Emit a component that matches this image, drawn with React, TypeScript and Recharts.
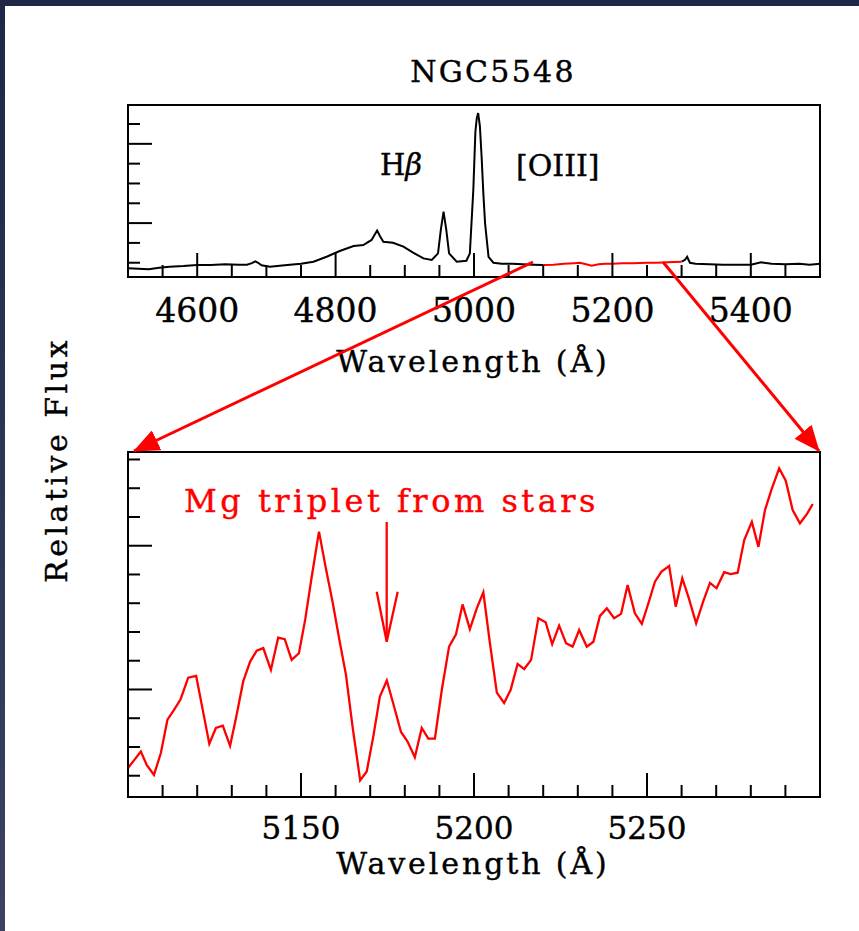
import { Line, LineChart, XAxis, YAxis } from "recharts";

// NGC5548 full spectrum (top panel), relative flux in arbitrary units
const blueSideWave = [4500, 4515, 4530, 4545, 4560, 4580, 4600, 4620, 4640, 4660, 4672, 4679, 4684, 4688, 4693, 4705, 4730, 4750, 4768, 4787, 4806, 4826, 4840, 4852, 4857, 4860, 4864, 4869, 4883, 4898, 4912, 4927, 4939, 4948, 4952, 4956, 4960, 4964, 4975, 4989, 4994, 4999, 5002, 5004, 5006, 5008.5, 5011, 5013.5, 5016, 5021, 5028, 5040, 5055, 5070, 5085, 5100];
const blueSideFlux = [-0.28, -0.3, -0.33, -0.25, -0.2, -0.17, -0.12, -0.12, -0.08, -0.1, -0.1, -0.02, 0.07, 0.0, -0.13, -0.2, -0.12, -0.05, 0.05, 0.3, 0.59, 0.84, 0.89, 1.15, 1.45, 1.62, 1.35, 1.06, 1.01, 0.81, 0.51, 0.22, 0.14, 0.47, 1.65, 2.58, 1.65, 0.47, 0.05, 0.1, 0.47, 3.67, 6.6, 7.3, 7.55, 6.9, 5.35, 3.5, 1.99, 0.3, 0.0, -0.05, -0.05, -0.08, -0.1, -0.12];

const mgRegionWave = [5100, 5115, 5130, 5145, 5153, 5162, 5170, 5180, 5190, 5200, 5215, 5230, 5250, 5265, 5280, 5300];
const mgRegionFlux = [-0.12, -0.1, -0.05, -0.02, 0.0, -0.08, -0.15, -0.08, -0.05, -0.05, -0.03, -0.03, 0.0, 0.0, 0.02, 0.05];

const redSideWave = [5300, 5305, 5308, 5312, 5320, 5340, 5360, 5380, 5400, 5415, 5430, 5450, 5470, 5485, 5500];
const redSideFlux = [0.05, 0.15, 0.3, 0.0, -0.05, -0.08, -0.1, -0.1, -0.1, 0.02, -0.05, -0.08, -0.05, -0.1, -0.05];

// zoom on the Mg triplet region (bottom panel)
const zoomWave = [5100.0, 5101.9, 5103.7, 5105.4, 5107.5, 5109.5, 5111.4, 5113.3, 5115.2, 5117.4, 5119.7, 5121.6, 5123.5, 5125.4, 5127.4, 5129.5, 5131.2, 5133.3, 5135.3, 5137.2, 5139.1, 5141.3, 5143.4, 5145.3, 5147.3, 5149.4, 5151.2, 5153.1, 5155.2, 5157.2, 5159.2, 5161.1, 5163.0, 5164.9, 5167.1, 5169.0, 5170.9, 5172.8, 5174.8, 5176.9, 5178.9, 5180.8, 5182.9, 5184.9, 5186.8, 5188.7, 5190.7, 5192.8, 5194.8, 5196.7, 5198.8, 5200.8, 5202.7, 5204.6, 5206.6, 5208.7, 5210.6, 5212.6, 5214.5, 5216.5, 5218.6, 5220.7, 5222.6, 5224.6, 5226.6, 5228.5, 5230.4, 5232.6, 5234.5, 5236.4, 5238.4, 5240.5, 5242.5, 5244.4, 5246.5, 5248.5, 5250.4, 5252.3, 5254.2, 5256.4, 5258.3, 5260.2, 5262.1, 5264.2, 5266.2, 5268.2, 5270.1, 5272.3, 5274.2, 5276.2, 5278.1, 5280.3, 5282.2, 5284.1, 5286.0, 5288.2, 5290.1, 5292.1, 5294.2, 5296.2, 5297.9];
const zoomFlux = [0.27, 0.56, 0.84, 0.38, 0.03, 0.79, 1.95, 2.29, 2.66, 3.41, 3.47, 2.29, 1.11, 1.66, 1.74, 1.04, 2.0, 3.28, 3.97, 4.35, 4.44, 3.68, 4.8, 4.75, 4.03, 4.26, 5.42, 6.92, 8.49, 7.21, 6.0, 4.72, 3.51, 1.71, -0.16, 0.15, 1.37, 2.75, 3.31, 2.41, 1.52, 1.19, 0.64, 1.66, 1.29, 1.29, 2.99, 4.49, 4.92, 5.96, 5.1, 5.82, 6.38, 4.61, 2.89, 2.53, 2.99, 3.89, 3.71, 4.03, 5.48, 5.34, 4.58, 5.22, 4.61, 4.49, 5.07, 4.49, 4.66, 5.56, 5.82, 5.48, 5.63, 6.63, 5.65, 5.28, 6.0, 6.75, 7.1, 7.29, 5.88, 6.87, 6.17, 5.3, 6.05, 6.71, 6.52, 7.08, 7.01, 7.06, 8.2, 8.83, 7.96, 9.24, 9.96, 10.69, 10.26, 9.24, 8.78, 9.1, 9.45];

// axis ticks
const topMajorX = [4600, 4800, 5000, 5200, 5400];
const topMinorX = [4550, 4650, 4700, 4750, 4850, 4900, 4950, 5050, 5100, 5150, 5250, 5300, 5350, 5450];
const topYTicks = [0, 1, 2, 3, 4, 5, 6, 7];
const topMajorY = [2, 6];

const zoomMajorX = [5150, 5200, 5250];
const zoomMinorX = [5110, 5120, 5130, 5140, 5160, 5170, 5180, 5190, 5210, 5220, 5230, 5240, 5260, 5270, 5280, 5290];
const zoomYTicks = [0, 1, 2, 3, 4, 5, 6, 7, 8, 9, 10, 11];
const zoomMajorY = [3, 8];

const FONT = "'DejaVu Serif', serif";
const RED = "#ff0000";

const toRows = (w: number[], f: number[]) => w.map((wl, i) => ({ wl, flux: f[i] }));

type Side = "bottom" | "top" | "left" | "right";

function makeTick(side: Side, majors: number[], label?: { dy: number; size: number }) {
  return (props: any) => {
    const { x, y, payload } = props;
    const v = Number(payload.value);
    const major = majors.includes(v);
    const len = major ? 24 : 12;
    let x2 = x;
    let y2 = y;
    if (side === "bottom") y2 = y - len;
    if (side === "top") y2 = y + len;
    if (side === "left") x2 = x + len;
    if (side === "right") x2 = x - len;
    return (
      <g>
        <line x1={x} y1={y} x2={x2} y2={y2} stroke="#000" strokeWidth={2} />
        {label && major && (
          <text x={x} y={y + label.dy} textAnchor="middle" fontFamily={FONT} fontSize={label.size}
            fill="#000" stroke="#000" strokeWidth={0.4}>
            {v}
          </text>
        )}
      </g>
    );
  };
}

const axisLine = { stroke: "#000", strokeWidth: 2, strokeLinecap: "square" as const };

// axes are 1px thick so they render; margins are reduced by 1 to compensate
function FullSpectrum() {
  const xTicks = [...topMajorX, ...topMinorX].sort((a, b) => a - b);
  return (
    <LineChart width={859} height={340} margin={{ top: 104, right: 38, bottom: 62, left: 127 }}>
      <XAxis xAxisId="b" type="number" dataKey="wl" domain={[4500, 5500]} ticks={xTicks} interval={0}
        height={1} tickSize={0} tickMargin={0} tickLine={false} axisLine={axisLine}
        tick={makeTick("bottom", topMajorX, { dy: 45, size: 33 })} />
      <XAxis xAxisId="t" orientation="top" type="number" dataKey="wl" domain={[4500, 5500]} ticks={xTicks} interval={0}
        height={1} tickSize={0} tickMargin={0} tickLine={false} axisLine={axisLine}
        tick={makeTick("top", topMajorX)} />
      <YAxis yAxisId="l" type="number" domain={[-0.72, 7.96]} ticks={topYTicks} interval={0}
        width={1} tickSize={0} tickMargin={0} tickLine={false} axisLine={axisLine}
        tick={makeTick("left", topMajorY)} />
      <YAxis yAxisId="r" orientation="right" type="number" domain={[-0.72, 7.96]} ticks={topYTicks} interval={0}
        width={1} tickSize={0} tickMargin={0} tickLine={false} axisLine={axisLine}
        tick={makeTick("right", topMajorY)} />
      <Line xAxisId="b" yAxisId="l" data={toRows(blueSideWave, blueSideFlux)} dataKey="flux" type="linear"
        stroke="#000" strokeWidth={2} dot={false} isAnimationActive={false} />
      <Line xAxisId="b" yAxisId="l" data={toRows(redSideWave, redSideFlux)} dataKey="flux" type="linear"
        stroke="#000" strokeWidth={2} dot={false} isAnimationActive={false} />
      <Line xAxisId="b" yAxisId="l" data={toRows(mgRegionWave, mgRegionFlux)} dataKey="flux" type="linear"
        stroke={RED} strokeWidth={2} dot={false} isAnimationActive={false} />
    </LineChart>
  );
}

function ZoomSpectrum() {
  const xTicks = [...zoomMajorX, ...zoomMinorX].sort((a, b) => a - b);
  return (
    <LineChart width={859} height={500} margin={{ top: 51, right: 38, bottom: 102, left: 127 }}>
      <XAxis xAxisId="b" type="number" dataKey="wl" domain={[5100, 5300]} ticks={xTicks} interval={0}
        height={1} tickSize={0} tickMargin={0} tickLine={false} axisLine={axisLine}
        tick={makeTick("bottom", zoomMajorX, { dy: 42, size: 31 })} />
      <XAxis xAxisId="t" orientation="top" type="number" dataKey="wl" domain={[5100, 5300]} ticks={xTicks} interval={0}
        height={1} tickSize={0} tickMargin={0} tickLine={false} axisLine={axisLine}
        tick={makeTick("top", zoomMajorX)} />
      <YAxis yAxisId="l" type="number" domain={[-0.74, 11.26]} ticks={zoomYTicks} interval={0}
        width={1} tickSize={0} tickMargin={0} tickLine={false} axisLine={axisLine}
        tick={makeTick("left", zoomMajorY)} />
      <YAxis yAxisId="r" orientation="right" type="number" domain={[-0.74, 11.26]} ticks={zoomYTicks} interval={0}
        width={1} tickSize={0} tickMargin={0} tickLine={false} axisLine={axisLine}
        tick={makeTick("right", zoomMajorY)} />
      <Line xAxisId="b" yAxisId="l" data={toRows(zoomWave, zoomFlux)} dataKey="flux" type="linear"
        stroke={RED} strokeWidth={2.3} dot={false} isAnimationActive={false} />
    </LineChart>
  );
}

export default function App() {
  const txt = { fontFamily: FONT, fill: "#000", stroke: "#000", strokeWidth: 0.4 };
  return (
    <div style={{ position: "absolute", left: 0, top: 0, width: 859, height: 931, background: "#fff", overflow: "hidden" }}>
      <div style={{ position: "absolute", left: 0, top: 0, width: 859, height: 6, background: "#1e2846" }} />
      <div style={{ position: "absolute", left: 0, top: 0, width: 5, height: 931, background: "linear-gradient(#1e2846, #3b4263)" }} />
      <div style={{ position: "absolute", left: 0, top: 0 }}>
        <FullSpectrum />
      </div>
      <div style={{ position: "absolute", left: 0, top: 400 }}>
        <ZoomSpectrum />
      </div>
      <svg width={859} height={931} style={{ position: "absolute", left: 0, top: 0, pointerEvents: "none" }}>
        <defs>
          <marker id="head" markerUnits="userSpaceOnUse" markerWidth={26} markerHeight={22} refX={25} refY={11} orient="auto">
            <path d="M0,0 L26,11 L0,22 z" fill={RED} />
          </marker>
        </defs>
        <text x={493} y={82} textAnchor="middle" fontSize={30} letterSpacing={2.3} {...txt}>NGC5548</text>
        <text x={380} y={175} fontSize={29} {...txt}>
          H<tspan fontStyle="italic">β</tspan>
        </text>
        <text x={516} y={176} fontSize={30} {...txt}>[OIII]</text>
        <text x={473} y={372} textAnchor="middle" fontSize={30} letterSpacing={2.9} {...txt}>Wavelength (Å)</text>
        <text x={473} y={874} textAnchor="middle" fontSize={30} letterSpacing={2.9} {...txt}>Wavelength (Å)</text>
        <text transform="translate(67,460) rotate(-90)" textAnchor="middle" fontSize={30} letterSpacing={3.5} {...txt}>Relative Flux</text>
        <text x={184} y={512} fontFamily={FONT} fontSize={32} letterSpacing={3.5} fill={RED} stroke={RED} strokeWidth={0.4}>Mg triplet from stars</text>
        <line x1={533} y1={262} x2={134} y2={451} stroke={RED} strokeWidth={3} markerEnd="url(#head)" />
        <line x1={663} y1={262} x2={819} y2={451} stroke={RED} strokeWidth={3} markerEnd="url(#head)" />
        <line x1={386.7} y1={522} x2={386.7} y2={641} stroke={RED} strokeWidth={2.3} />
        <polyline points="376.7,591.7 386.7,641.7 397.7,591.7" fill="none" stroke={RED} strokeWidth={2.3} />
      </svg>
    </div>
  );
}
